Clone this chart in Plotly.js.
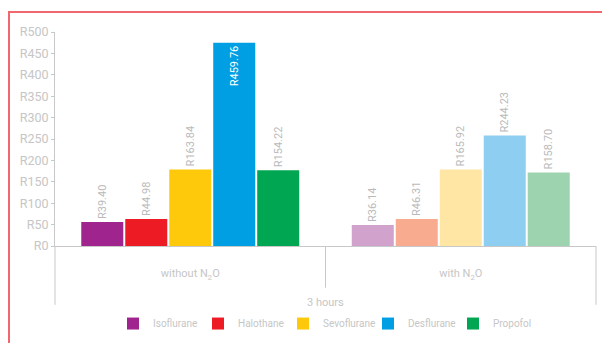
<!DOCTYPE html>
<html>
<head>
<meta charset="utf-8">
<script src="https://cdn.plot.ly/plotly-3.0.1.min.js"></script>
<style>
  html, body { margin: 0; padding: 0; background: #fff; }
  #wrap { position: relative; width: 602px; height: 343px; overflow: hidden; }
  #chart { position: absolute; left: 0; top: 0; width: 602px; height: 343px; }
  #frame { position: absolute; left: 8px; top: 11px; width: 700px; height: 400px;
           border-left: 2px solid #F0686E; border-top: 2px solid #F0686E; pointer-events: none; }
</style>
</head>
<body>
<div id="wrap">
  <div id="chart"></div>
  <div id="frame"></div>
</div>
<script>
// ---- data ----
const groups = ["without N<sub>2</sub>O", "with N<sub>2</sub>O"];
const outerLabel = "3 hours";
const series = ["Isoflurane", "Halothane", "Sevoflurane", "Desflurane", "Propofol"];
// bar heights as drawn in the reference
const isoflurane  = [56, 49];
const halothane   = [63, 63];
const sevoflurane = [179, 179];
const desflurane  = [475, 258];
const propofol    = [177, 172];
// printed value labels
const isofluraneLbl  = ["R39.40", "R36.14"];
const halothaneLbl   = ["R44.98", "R46.31"];
const sevofluraneLbl = ["R163.84", "R165.92"];
const desfluraneLbl  = ["R459.76", "R244.23"];
const propofolLbl    = ["R154.22", "R158.70"];
const yTickVals = [0, 50, 100, 150, 200, 250, 300, 350, 400, 450, 500];
const yTickText = ["R0","R50","R100","R150","R200","R250","R300","R350","R400","R450","R500"];

const values = [isoflurane, halothane, sevoflurane, desflurane, propofol];
const labels = [isofluraneLbl, halothaneLbl, sevofluraneLbl, desfluraneLbl, propofolLbl];
const darkColors  = ["#A0248E", "#ED1C24", "#FFC90B", "#009FE3", "#00A651"];
const lightColors = ["#D0A2CC", "#F9AB8F", "#FFE6A5", "#8ECEF0", "#9DD3AF"];

const FONT = "Roboto, 'Liberation Sans', sans-serif";
const GRAY = "#c6c6c6";

const traces = series.map((name, i) => ({
  type: "bar",
  name: name,
  x: groups,
  y: values[i],
  text: labels[i],
  textangle: -90,
  textposition: name === "Desflurane" ? ["inside", "outside"] : "outside",
  insidetextanchor: "end",
  insidetextfont: { family: FONT, size: 11, color: "#ffffff" },
  outsidetextfont: { family: FONT, size: 11, color: "#bababa" },
  cliponaxis: false,
  marker: { color: [darkColors[i], lightColors[i]], line: { width: 0 } },
  hoverinfo: "none"
}));

const lineStyle = { color: "#c8c8c8", width: 1 };
const layout = {
  width: 602, height: 343,
  margin: { l: 55, r: 6, t: 32, b: 96 },
  paper_bgcolor: "#ffffff", plot_bgcolor: "#ffffff",
  font: { family: FONT, color: GRAY, size: 11 },
  barmode: "group",
  bargap: 0.187,
  bargroupgap: 0.045,
  showlegend: true,
  legend: {
    orientation: "h", x: 0.5, xanchor: "center", y: -0.356, yanchor: "middle",
    font: { family: FONT, size: 10, color: GRAY }, traceorder: "normal",
    entrywidth: 40, entrywidthmode: "pixels"
  },
  xaxis: {
    type: "category", range: [-0.5, 1.5],
    showline: true, linecolor: "#c8c8c8", linewidth: 1,
    ticks: "", showgrid: false, zeroline: false,
    tickfont: { family: FONT, size: 11, color: GRAY },
    ticklabelstandoff: 17
  },
  yaxis: {
    range: [0, 500], tickvals: yTickVals, ticktext: yTickText,
    showline: true, linecolor: "#c8c8c8", linewidth: 1,
    ticks: "outside", ticklen: 3, tickcolor: "#c8c8c8",
    showgrid: false, zeroline: false,
    tickfont: { family: FONT, size: 12.5, color: GRAY }
  },
  shapes: [
    { type: "line", xref: "paper", yref: "paper", x0: 0, x1: 0, y0: 0, y1: -0.275, line: lineStyle },
    { type: "line", xref: "paper", yref: "paper", x0: 0.5, x1: 0.5, y0: 0, y1: -0.195, line: lineStyle },
    { type: "line", xref: "paper", yref: "paper", x0: 1, x1: 1, y0: 0, y1: -0.275, line: lineStyle }
  ],
  annotations: [
    { xref: "paper", yref: "paper", x: 0.5, y: -0.262, yanchor: "middle", showarrow: false,
      text: outerLabel, font: { family: FONT, size: 11, color: GRAY } }
  ]
};

Plotly.newPlot("chart", traces, layout, { staticPlot: true, displayModeBar: false });
</script>
</body>
</html>
